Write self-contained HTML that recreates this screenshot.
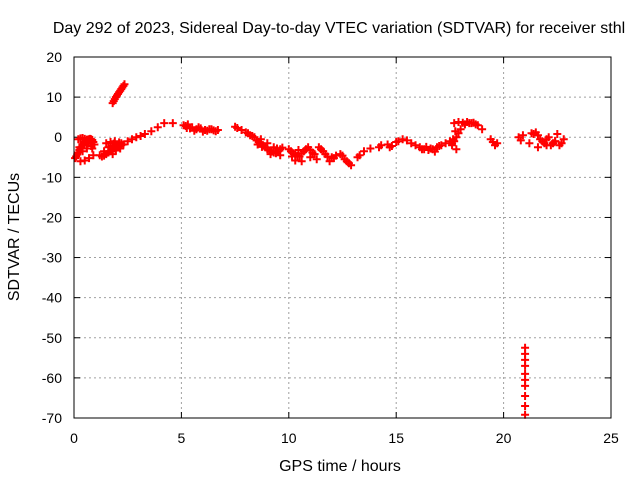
<!DOCTYPE html>
<html><head><meta charset="utf-8"><style>
body{margin:0;background:#fff}
svg{font-family:"Liberation Sans",sans-serif;font-size:14px}
.big{font-size:16px}
</style></head><body>
<svg id="c" width="640" height="480" xmlns="http://www.w3.org/2000/svg">
<rect width="640" height="480" fill="#fff"/>
<text class="big" x="339" y="33" text-anchor="middle">Day 292 of 2023, Sidereal Day-to-day VTEC variation (SDTVAR) for receiver sthl</text>
<text class="big" x="340" y="471" text-anchor="middle">GPS time / hours</text>
<text class="big" x="19" y="237" text-anchor="middle" transform="rotate(-90 19 237)">SDTVAR / TECUs</text>
<g id="grid"></g><g id="ticks"></g><g id="pts"></g>
<rect x="74" y="57" width="537" height="361" fill="none" stroke="#000" stroke-width="1"/>
</svg>
<script>
const xTicks=[0,5,10,15,20,25];
const yTicks=[20,10,0,-10,-20,-30,-40,-50,-60,-70];
const ptX=[0.05,0.1,0.15,0.2,0.25,0.3,0.35,0.4,0.45,0.5,0.55,0.6,0.65,0.7,0.75,0.8,0.85,0.9,0.95,
0.2,0.3,0.4,0.5,0.6,0.7,0.8,0.9,0.3,0.5,0.7,0.9,0.4,0.6,0.8,0.25,0.45,0.65,0.85,
1.2,1.3,1.4,1.5,1.6,1.7,1.8,1.9,2.0,2.1,2.2,2.3,1.5,1.7,1.9,2.1,1.6,1.8,2.0,2.2,1.4,1.6,1.8,1.75,1.95,2.15,1.85,2.05,
1.8,1.85,1.9,1.95,2.0,2.05,2.1,2.15,2.2,2.25,2.3,2.35,
2.5,2.7,2.9,3.1,3.3,3.6,3.9,4.2,4.6,
5.1,5.2,5.3,5.5,5.7,5.9,6.1,6.3,6.5,6.7,5.4,5.8,6.2,6.6,5.25,5.6,6.0,6.4,
7.5,7.6,7.8,8.0,8.2,8.4,8.5,8.6,8.7,8.8,8.9,9.0,9.1,9.2,9.3,9.4,9.5,9.6,9.7,8.1,8.3,8.7,9.0,9.3,9.6,8.55,8.75,9.15,9.45,
10.0,10.1,10.2,10.3,10.4,10.5,10.6,10.7,10.8,10.9,11.0,11.1,11.2,11.4,11.5,11.6,11.7,11.8,12.0,12.2,12.4,12.5,12.6,12.7,12.8,12.9,10.3,10.6,11.0,11.3,11.9,12.1,10.15,10.45,
13.2,13.3,13.5,13.8,14.2,14.3,14.6,14.7,14.8,15.0,15.1,15.3,15.5,15.7,15.9,16.1,16.3,16.5,16.7,16.9,17.1,17.3,17.5,16.2,16.6,17.0,16.4,16.8,
17.6,17.7,17.8,17.9,18.0,18.2,18.4,18.6,18.8,19.0,17.7,17.9,18.1,18.3,18.5,18.7,17.6,17.8,17.65,17.75,
19.4,19.5,19.6,19.7,
20.7,20.8,20.9,21.3,21.4,21.5,21.6,21.7,21.8,21.9,22.0,22.1,22.2,22.3,22.4,22.5,22.6,22.7,22.8,21.2,21.6,22.0,22.4,
21.0,21.0,21.0,21.0,21.0,21.0,21.0,21.0,21.0,21.0];
const ptY=[-5.2,-4.8,-4.3,-3.8,-3.2,-2.8,-2.4,-2,-1.6,-1.3,-1,-0.8,-0.6,-0.5,-0.4,-0.5,-0.7,-1.2,-1.8,
-0.5,-0.3,-0.2,-0.4,-0.6,-0.9,-1.3,-1.8,-6,-5.8,-5.2,-4.5,-3.5,-2.8,-2.2,-2.5,-1.2,-1.5,-2.8,
-4.5,-4.8,-4.6,-4.2,-3.8,-3.5,-3.2,-2.8,-2.5,-2.2,-2,-1.8,-1.5,-1.2,-1,-1.3,-2.5,-2.2,-1.8,-1.5,-3.5,-3.8,-4.2,-3,-3.3,-2.8,-1.6,-2.5,
8.5,9,9.5,10,10.4,10.8,11.2,11.6,12,12.4,12.8,13.2,
-1,-0.5,0,0.3,0.8,1.5,2.5,3.5,3.5,
3,2.8,3.2,2.5,2,2.2,1.8,2,1.7,1.8,2.2,2.5,1.6,1.5,2.3,1.6,1.4,2.0,
2.6,2.3,1.8,1.2,0.5,0,-0.8,-1.2,-1.5,-2,-2.5,-3,-3.3,-3.6,-3.8,-4,-3.5,-3,-2.6,1,0.3,-0.5,-1.5,-2.5,-4.5,-1.8,-2.4,-4.2,-2.8,
-3,-3.5,-4,-4.3,-4.6,-4.8,-4,-3.5,-3,-2.5,-3.2,-3.8,-4.2,-2.5,-3,-3.5,-4.2,-4.8,-5,-4.6,-4.2,-4.6,-5.5,-6,-6.5,-7,-5.8,-6,-5,-5.5,-6,-5.2,-4.8,-3.2,
-5,-4.5,-3.5,-2.8,-2.5,-2,-1.8,-2.5,-2.2,-1.2,-1,-0.5,-0.8,-1.5,-2,-2.5,-3,-3.2,-3,-2.5,-2,-1.5,-1,-3,-2.8,-2.2,-2.4,-3.6,
-2,-1,0,1,2,3.2,3.5,3.6,3,2,3.5,3.8,3.6,3.8,3.5,3.2,-1.5,-3,-0.5,1.5,
-0.5,-1.2,-2,-1.5,
0,-0.8,0.5,1,0.8,1.2,0.5,-0.5,-1,-1.5,-0.5,0,-2,-1.5,-1,0.8,-2,-1.5,-0.5,-1.5,-2.5,-2,-1,
-52.5,-54,-55.5,-57,-59,-60.5,-62,-64.5,-67,-69.2];
const X0=74,X1=611,Y0=57,Y1=418;
const sx=v=>X0+(v-0)/(25-0)*(X1-X0);
const sy=v=>Y0+(20-v)/(20-(-70))*(Y1-Y0);
const NS="http://www.w3.org/2000/svg";
const grid=document.getElementById('grid'),ticks=document.getElementById('ticks'),pts=document.getElementById('pts');
function mk(t,a,p){const e=document.createElementNS(NS,t);for(const k in a)e.setAttribute(k,a[k]);p.appendChild(e);return e;}
xTicks.forEach(v=>{const x=sx(v);
 if(v>0&&v<25){const g=mk('line',{x1:x,y1:Y0,x2:x,y2:Y1,stroke:'#a0a0a0','stroke-dasharray':'2,3'},grid);
 
 }
 mk('line',{x1:x,y1:Y1,x2:x,y2:Y1-6,stroke:'#000'},ticks);mk('line',{x1:x,y1:Y0,x2:x,y2:Y0+6,stroke:'#000'},ticks);
 const t=mk('text',{x:x,y:443,'text-anchor':'middle'},ticks);t.textContent=v;
 
 });
yTicks.forEach(v=>{const y=sy(v);
 if(v<20&&v>-70){const g=mk('line',{x1:X0,y1:y,x2:X1,y2:y,stroke:'#a0a0a0','stroke-dasharray':'2,3'},grid);
 
 }
 mk('line',{x1:X0,y1:y,x2:X0+6,y2:y,stroke:'#000'},ticks);mk('line',{x1:X1,y1:y,x2:X1-6,y2:y,stroke:'#000'},ticks);
 const t=mk('text',{x:62,y:y+5,'text-anchor':'end'},ticks);t.textContent=v;
 
 });
ptX.forEach((v,i)=>{const x=sx(v),y=sy(ptY[i]);
 const p=mk('path',{d:`M${x-4},${y}h8M${x},${y-4}v8`,stroke:'#ff0000','stroke-width':'2',fill:'none'},pts);
 
 });
</script>
</body></html>
